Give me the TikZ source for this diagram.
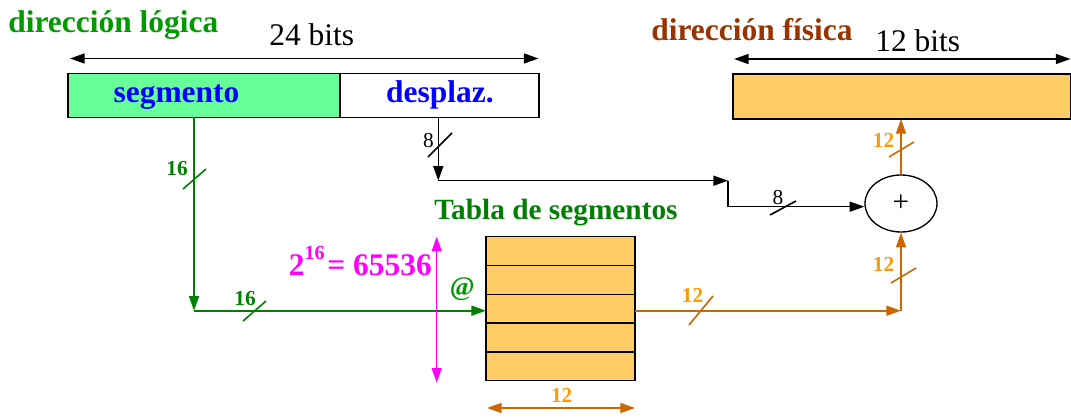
\documentclass[tikz,border=0pt]{standalone}
\usepackage{fontspec}
\setmainfont{Liberation Serif}
\usetikzlibrary{arrows.meta,shapes.geometric,calc}

\definecolor{gtext}{RGB}{0,153,0}
\definecolor{gline}{RGB}{0,128,0}
\definecolor{segfill}{RGB}{102,255,153}
\definecolor{orfill}{RGB}{255,204,102}
\definecolor{orline}{RGB}{204,102,0}
\definecolor{orlabel}{RGB}{255,153,0}
\definecolor{physbrown}{RGB}{153,51,0}
\definecolor{segblue}{RGB}{0,0,255}
\definecolor{sizemag}{RGB}{255,0,255}

\tikzset{
  >={Triangle[length=11pt,width=7.5pt]},
  wire/.style={line width=1.2pt},
  gwire/.style={wire, draw=gline, ->},
  owire/.style={wire, draw=orline},
  slash/.style={line width=1.2pt},
  box/.style={draw, rectangle, line width=1pt, inner sep=0pt, outer sep=0pt},
  bigtxt/.style={font=\fontsize{23.6}{28}\selectfont},
  bigbold/.style={font=\fontsize{23.6}{28}\selectfont\bfseries},
  smallbold/.style={font=\fontsize{16}{18}\selectfont\bfseries, inner sep=0pt},
  smalltxt/.style={font=\fontsize{16}{18}\selectfont, inner sep=0pt},
}

\begin{document}
\begin{tikzpicture}[x=0.75pt,y=-0.75pt]
\useasboundingbox (0,0) rectangle (1071,417);

% ---- titles and widths ----
\node[bigbold, text=gtext, anchor=base west, inner sep=0pt] (dirL) at (8,33) {dirección lógica};
\node[bigtxt, anchor=base west, inner sep=0pt] (w24) at (269,46) {24 bits};
\node[bigbold, text=physbrown, anchor=base west, inner sep=0pt] (dirF) at (651,41) {dirección física};
\node[bigtxt, anchor=base west, inner sep=0pt] (w12) at (875,52) {12 bits};

\coordinate (a24l) at (70,58.5);
\coordinate (a24r) at (538.5,58.5);
\draw[<->, wire] (a24l) -- (a24r);
\coordinate (a12l) at (734,59);
\coordinate (a12r) at (1070.5,59);
\draw[<->, wire] (a12l) -- (a12r);

% ---- logical address ----
\node[box, fill=segfill, minimum width=204pt, minimum height=33pt] (seg) at (204,95.5) {};
\node[box, fill=white, minimum width=149.25pt, minimum height=33pt] (desp) at (439.5,95.5) {};
\node[bigbold, text=segblue, anchor=base, inner sep=0pt] (segtxt) at (176.5,103) {segmento};
\node[bigbold, text=segblue, anchor=base, inner sep=0pt] (desptxt) at (440,103) {desplaz.};

% ---- physical address ----
\node[box, fill=orfill, minimum width=253.1pt, minimum height=33.75pt] (phys) at (901.75,96.5) {};

% ---- segment table ----
\node[text=gline, anchor=base west, inner sep=0pt, font=\fontsize{22}{26}\selectfont\bfseries] (tabtitle) at (434,219.3) {Tabla de segmentos};
\node[box, fill=orfill, minimum width=111.75pt, minimum height=108pt] (tab) at (560.5,308.7) {};
\foreach \yy in {265.7,294.3,323,352}
  \draw[line width=1pt] (486,\yy) -- (635,\yy);

% ---- adder ----
\node[draw, ellipse, line width=1pt, minimum width=54pt, minimum height=42.75pt, inner sep=0pt,
      font=\fontsize{22}{24}\selectfont] (add) at (901,203.5) {+};

% ---- segment number path ----
\coordinate (gc) at (194,310.7);
\draw[gwire] (seg.south -| gc) -- (gc);
\draw[gwire] (gc) -- (tab.west |- gc);
\draw[slash, gline] (183,189) -- (206,169);
\draw[slash, gline] (243,321) -- (266,301);
\node[smallbold, text=gline] (l16a) at (177,169) {16};
\node[smallbold, text=gline] (l16b) at (245,298.5) {16};
\node[font=\fontsize{20}{22}\selectfont\bfseries, text=gtext, inner sep=0pt] (at) at (462.3,289) {@};

% ---- offset path ----
\coordinate (bc) at (438.3,180.7);
\coordinate (bs) at (728,180.7);
\coordinate (bd) at (728,206.7);
\draw[wire, ->] (desp.south -| bc) -- (bc);
\draw[wire, ->] (bc) -- (bs);
\draw[wire, ->] (bs) -- (bd) -- (add.west |- bd);
\draw[slash] (428,157) -- (452,133);
\draw[slash] (770,215) -- (796,201);
\node[smalltxt] (l8a) at (428.5,140.5) {8};
\node[smalltxt] (l8b) at (778,198) {8};

% ---- base address path ----
\coordinate (oc) at (901,310.7);
\draw[owire, ->] (tab.east |- oc) -- (oc);
\draw[owire, ->] (oc) -- (add.south);
\draw[owire, ->] (add.north) -- (phys.south -| add.north);
\draw[slash, orline] (689,325) -- (713,296);
\draw[slash, orline] (891,283) -- (916,268);
\draw[slash, orline] (889,157) -- (914,142);
\node[smallbold, text=orlabel] (l12a) at (692.5,295.3) {12};
\node[smallbold, text=orlabel] (l12b) at (883.5,264.5) {12};
\node[smallbold, text=orlabel] (l12c) at (883.5,140.5) {12};

% ---- table dimensions ----
\coordinate (mt) at (436.7,236.7);
\coordinate (mb) at (436.7,382.7);
\draw[<->, line width=1pt, sizemag] (mt) -- (mb);
\node[bigbold, text=sizemag, anchor=base east, inner sep=0pt] (rows) at (432,275.7)
  {2\raisebox{12pt}{\fontsize{15}{17}\selectfont 16}\kern2pt= 65536};
\coordinate (wl) at (487,408);
\coordinate (wr) at (635,408);
\draw[<->, owire] (wl) -- (wr);
\node[smallbold, text=orlabel] (l12d) at (561.7,395.2) {12};
\end{tikzpicture}
\end{document}
